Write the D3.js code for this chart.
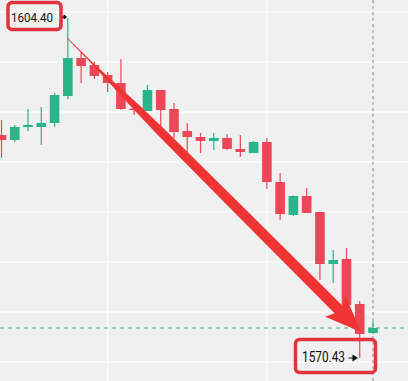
<!DOCTYPE html>
<html><head><meta charset="utf-8">
<script src="https://cdn.jsdelivr.net/npm/d3@7/dist/d3.min.js"></script>
<style>html,body{margin:0;padding:0;background:#f1f1f1;overflow:hidden}svg{display:block}</style>
</head><body>
<svg id="c" width="408" height="381"></svg>
<script>
const opens  = [1592.7,1592.2,1593.5,1593.5,1593.9,1596.6,1600.4,1599.7,1598.7,1597.9,1595.35,1595.1,1597.2,1595.3,1593.1,1592.5,1592.1,1592.4,1591.3,1590.9,1592.0,1588.0,1584.7,1586.6,1585.0,1579.8,1580.3,1575.8,1572.9];
const highs  = [1594.2,1593.7,1595.3,1595.5,1596.9,1604.4,1601.0,1600.0,1599.0,1600.3,1595.8,1597.7,1597.2,1595.9,1593.9,1592.9,1592.9,1592.8,1592.7,1592.1,1592.4,1588.9,1586.65,1587.4,1585.0,1581.2,1581.4,1576.1,1574.1];
const lows   = [1590.4,1592.0,1593.1,1591.7,1593.5,1596.3,1597.9,1598.3,1597.0,1595.2,1594.7,1595.1,1593.2,1592.4,1590.9,1590.9,1591.2,1591.2,1590.5,1590.9,1587.3,1584.2,1584.6,1584.9,1578.2,1577.9,1575.6,1570.43,1572.8];
const closes = [1592.2,1593.5,1593.7,1593.9,1596.7,1600.4,1599.6,1598.6,1597.9,1595.3,1595.25,1597.2,1595.2,1593.0,1592.5,1592.1,1592.4,1591.3,1591.0,1592.0,1588.0,1584.8,1586.6,1584.9,1579.8,1580.2,1575.7,1572.8,1573.4];
const priceTicks = [1605,1600,1595,1590,1585,1580,1575,1570];
const timeGridIdx = [8, 20];
const highLabel = "1604.40";
const lowLabel = "1570.43";
const lastPrice = 1573.4;
const arrowFrom = {i: 4.94, p: 1602.4};
const arrowTo = {i: 27.1, p: 1573.0};

const data = opens.map((o,i)=>({i, o, h:highs[i], l:lows[i], c:closes[i]}));
const W = 408, H = 381;
const svg = d3.select("#c");
const x = d3.scaleLinear().domain([0, 28]).range([1.5, 373]);
const y = d3.scaleLinear().domain([1570, 1605]).range([362, 12]);
const bw = 9.6;
const GREEN = "#2bb38a", RED = "#ec4657";

svg.append("rect").attr("width", W).attr("height", H).attr("fill", "#f0f0f0");
// grid
svg.append("g").selectAll("line").data(priceTicks).join("line")
  .attr("x1", 0).attr("x2", W).attr("y1", d=>y(d)).attr("y2", d=>y(d))
  .attr("stroke", "#fcfcfc").attr("stroke-width", 1.5);
svg.append("g").selectAll("line").data(timeGridIdx).join("line")
  .attr("y1", 0).attr("y2", H).attr("x1", d=>x(d)).attr("x2", d=>x(d))
  .attr("stroke", "#fcfcfc").attr("stroke-width", 1.5);
// crosshair / last price
svg.append("line").attr("x1", x(28)).attr("x2", x(28)).attr("y1", 0).attr("y2", H)
  .attr("stroke", "#8a8a8a").attr("stroke-width", 1).attr("stroke-dasharray", "3,3");
svg.append("line").attr("x1", 0).attr("x2", W).attr("y1", y(lastPrice)).attr("y2", y(lastPrice))
  .attr("stroke", "#5c9c8a").attr("stroke-width", 1).attr("stroke-dasharray", "4,4");

// candles
const g = svg.append("g");
g.selectAll("line.w").data(data).join("line").attr("class","w")
  .attr("x1", d=>x(d.i)).attr("x2", d=>x(d.i)).attr("y1", d=>y(d.h)).attr("y2", d=>y(d.l))
  .attr("stroke", d=>d.c>=d.o?GREEN:RED).attr("stroke-width", 1.2);
g.selectAll("rect.b").data(data).join("rect").attr("class","b")
  .attr("x", d=>x(d.i)-bw/2).attr("width", bw)
  .attr("y", d=>y(Math.max(d.o,d.c)))
  .attr("height", d=>Math.max(1.5, Math.abs(y(d.o)-y(d.c))))
  .attr("fill", d=>d.c>=d.o?GREEN:RED);

// big red tapered arrow
(function(){
  const x0 = x(arrowFrom.i), y0 = y(arrowFrom.p), x1 = x(arrowTo.i), y1 = y(arrowTo.p);
  const dx = x1-x0, dy = y1-y0, L = Math.hypot(dx,dy);
  const ux = dx/L, uy = dy/L, nx = -uy, ny = ux;
  const headLen = 32, headHalf = 14.5;
  const prof = [[0,0.4],[0.08,0.8],[0.15,1.9],[0.24,3.6],[0.32,4.4],[0.55,5.0],[(L-headLen)/L,5.5]];
  const pt = (t,w)=>[x0+ux*t*L+nx*w, y0+uy*t*L+ny*w];
  const left = prof.map(([t,w])=>pt(t,w));
  const right = prof.map(([t,w])=>pt(t,-w)).reverse();
  const tb = (L-headLen)/L;
  const poly = [...left, pt(tb-0.01, headHalf), [x1,y1], pt(tb-0.01,-headHalf), ...right];
  svg.append("path").attr("d", d3.line()(poly)+"Z").attr("fill", "#f03434");
})();

// labels
const BOX = "#e2333f";
svg.append("rect").attr("x", 8).attr("y", 2.5).attr("width", 53).attr("height", 27).attr("rx", 4)
  .attr("fill", "none").attr("stroke", BOX).attr("stroke-width", 3.5);
svg.append("text").attr("x", 11).attr("y", 21.5).attr("font-family", "Roboto, Arial, sans-serif")
  .attr("font-size", 13.5).attr("fill", "#111").attr("textLength", 42).attr("lengthAdjust", "spacingAndGlyphs").text(highLabel);
svg.append("path").attr("d", "M62,17 L65,17 M64,15 L66.5,17 L64,19 Z").attr("stroke", "#111").attr("stroke-width", 1).attr("fill", "#111");

svg.append("rect").attr("x", 295.5).attr("y", 339.5).attr("width", 80).attr("height", 33).attr("rx", 4)
  .attr("fill", "none").attr("stroke", BOX).attr("stroke-width", 3.5);
svg.append("text").attr("x", 302).attr("y", 362).attr("font-family", "Roboto, Arial, sans-serif")
  .attr("font-size", 14).attr("fill", "#111").attr("textLength", 43).attr("lengthAdjust", "spacingAndGlyphs").text(lowLabel);
svg.append("path").attr("d", "M348.5,358 L354,358 M353,355.5 L357,358 L353,360.5 Z").attr("stroke", "#111").attr("stroke-width", 1.1).attr("fill", "#111");
</script>
</body></html>
